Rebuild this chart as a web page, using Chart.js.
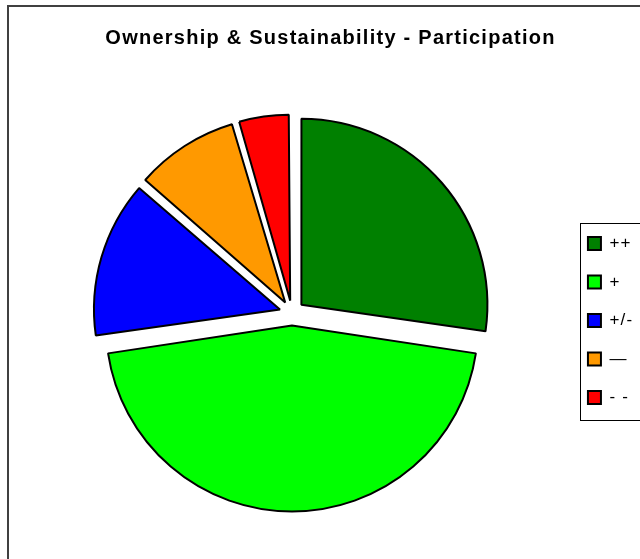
<!DOCTYPE html>
<html>
<head>
<meta charset="utf-8">
<script src="https://cdn.jsdelivr.net/npm/chart.js@4.4.1/dist/chart.umd.min.js"></script>
<style>
  html, body { margin: 0; padding: 0; background: #fff; overflow: hidden; width: 640px; height: 559px; }
  #frame { position: absolute; left: 7px; top: 5px; width: 700px; height: 600px; border: 2px solid #404040; }
  #pieChart { position: absolute; left: 0; top: 0; }
</style>
</head>
<body>
<div id="frame"></div>
<canvas id="pieChart" width="700" height="600"></canvas>
<script>
const labels = ["++", "+", "+/-", "\u2014", "- -"];
const counts = [6, 10, 3, 2, 1];
const colors = ["#008000", "#00ff00", "#0000ff", "#ff9900", "#ff0000"];
const chartTitle = "Ownership & Sustainability - Participation";
const explode = 50; // chart.js moves a slice out by offset / 4

// excel-ish wide letters
const spacingPlugin = {
  id: "spacing",
  beforeLayout(chart) { chart.ctx.letterSpacing = "1.25px"; },
  beforeDraw(chart) { chart.ctx.letterSpacing = "1.25px"; },
};

// chart.js also grows the radius of narrow exploded slices, undo it so all slices match
const evenRadius = {
  id: "evenRadius",
  afterDatasetUpdate(chart, args) {
    args.meta.data.forEach((arc) => {
      const fix = 1 - Math.sin(Math.min(Math.PI, arc.circumference));
      arc.outerRadius -= (explode / 4) * fix;
    });
  },
};

// box round the legend
const legendFrame = {
  id: "legendFrame",
  afterDraw(chart) {
    const boxes = chart.legend.legendHitBoxes;
    if (!boxes || !boxes.length) return;
    const first = boxes[0];
    const last = boxes[boxes.length - 1];
    const ctx = chart.ctx;
    ctx.save();
    ctx.strokeStyle = "#000";
    ctx.lineWidth = 1;
    const top = Math.round(first.top - 12) + 0.5;
    const left = Math.round(first.left - 8) + 0.5;
    ctx.strokeRect(left, top, 200, last.top + last.height - first.top + 26);
    ctx.restore();
  },
};

Chart.defaults.font.family = "'Liberation Sans', Arial, sans-serif";
Chart.defaults.color = "#000";

new Chart(document.getElementById("pieChart"), {
  type: "pie",
  data: {
    labels: labels,
    datasets: [
      {
        data: counts,
        backgroundColor: colors,
        borderColor: "#000",
        borderWidth: 2,
        offset: explode,
        radius: 186,
      },
    ],
  },
  options: {
    responsive: false,
    animation: false,
    layout: { padding: { left: 17.5, right: 56.5, top: 0, bottom: 34 } },
    plugins: {
      tooltip: { enabled: false },
      title: {
        display: true,
        text: chartTitle,
        color: "#000",
        font: { size: 20, weight: "bold" },
        padding: { top: 26, bottom: 10 },
      },
      legend: {
        position: "right",
        // empty title only pushes the items down to where excel had them
        title: { display: true, text: "", font: { size: 10 }, padding: { top: 63, bottom: 0 } },
        labels: {
          boxWidth: 13,
          boxHeight: 13,
          padding: 21.5,
          color: "#000",
          font: { size: 17 },
        },
      },
    },
  },
  plugins: [spacingPlugin, evenRadius, legendFrame],
});
</script>
</body>
</html>
